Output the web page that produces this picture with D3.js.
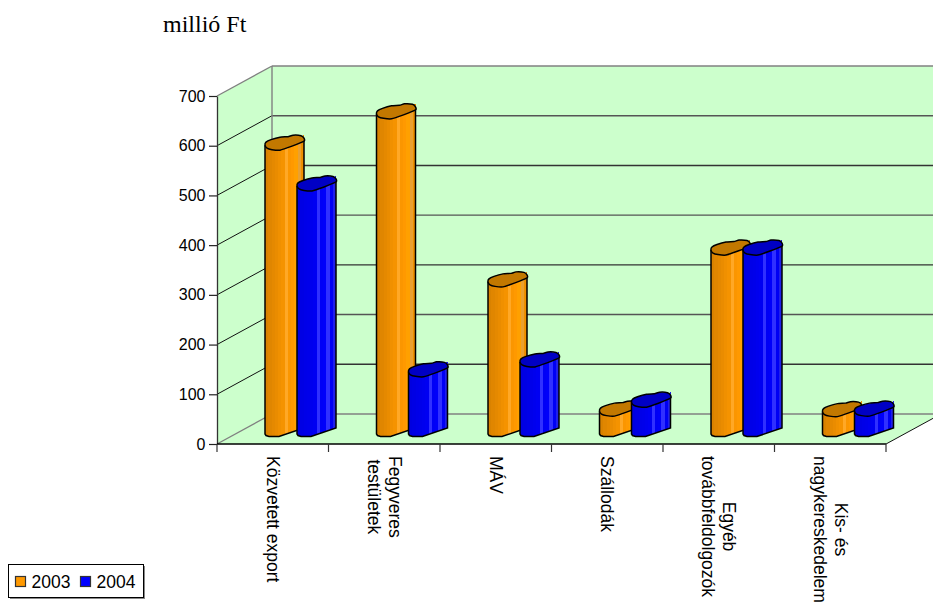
<!DOCTYPE html>
<html>
<head>
<meta charset="utf-8">
<script src="https://cdn.jsdelivr.net/npm/d3@7"></script>
<style>
    html, body { margin: 0; padding: 0; background: #fff; overflow: hidden; }
    svg { display: block; }
    text { font-family: "Liberation Sans", Arial, sans-serif; fill: #000; }
</style>
</head>
<body>
<div id="chart"></div>
<script>
const categories = [
    ["Közvetett export"],
    ["Fegyveres", "testületek"],
    ["MÁV"],
    ["Szállodák"],
    ["Egyéb", "továbbfeldolgozók"],
    ["Kis- és", "nagykereskedelem"]
];
const values2003 = [581, 644, 306, 46, 370, 45];
const values2004 = [499, 125, 145, 64, 370, 46];
const seriesNames = ["2003", "2004"];
const yTicks = [0, 100, 200, 300, 400, 500, 600, 700];

const width = 933, height = 604;
const depth = { x: 55, y: -30 };
const barLift = 10;

const orange = {
    cap: "#c27800", swatch: "#ff9900",
    facets: ["#d98200", "#e08600", "#e58900", "#ea8c00", "#f09000", "#f59300", "#ffa826", "#fb9600", "#ff9900", "#ffa000", "#eaa030", "#ee8f00"]
};
const blue = {
    cap: "#0000c4", swatch: "#0000ff",
    facets: ["#0000e0", "#0000e4", "#0000e8", "#0000ea", "#0000ee", "#0000f2", "#3030ff", "#0000f6", "#0000fa", "#3030ff", "#0000f4", "#2020ea"]
};

const svg = d3.select("#chart").append("svg")
    .attr("width", width)
    .attr("height", height);

const x = d3.scaleBand().domain(d3.range(categories.length)).range([217, 886]);
const y = d3.scaleLinear().domain([0, 700]).range([444, 96]);

const plotTop = y(700), plotBottom = y(0);

// back wall, side wall
svg.append("path")
    .attr("d", `M217,${plotBottom}V${plotTop}L${217 + depth.x},${plotTop + depth.y}H${886 + depth.x}V${plotBottom + depth.y}L886,${plotBottom}Z`)
    .attr("fill", "#ccffcc");

// gridlines, back wall first and then along the side wall
yTicks.forEach(t => {
    const grey = t === 0 || t === 700;
    const yy = y(t);
    svg.append("line")
        .attr("x1", 217 + depth.x).attr("x2", 886 + depth.x)
        .attr("y1", yy + depth.y).attr("y2", yy + depth.y)
        .attr("stroke", grey ? "#808080" : (t % 200 === 0 ? "#555" : "#333"))
        .attr("stroke-width", 1.4);
    svg.append("line")
        .attr("x1", 217).attr("x2", 217 + depth.x)
        .attr("y1", yy).attr("y2", yy + depth.y)
        .attr("stroke", grey ? "#808080" : "#111")
        .attr("stroke-width", grey ? 1.4 : 1);
});
svg.append("line")
    .attr("x1", 217 + depth.x).attr("x2", 217 + depth.x)
    .attr("y1", plotTop + depth.y).attr("y2", plotBottom + depth.y)
    .attr("stroke", "#808080").attr("stroke-width", 1.4);

// floor edge on the right
svg.append("line")
    .attr("x1", 886).attr("x2", 886 + depth.x)
    .attr("y1", plotBottom).attr("y2", plotBottom + depth.y)
    .attr("stroke", "#111");

// bars
const barWidth = 39;
const barOffsets = [48, 80];
const capShape = [[0, 0], [2, 3], [7, 4.5], [15, 5], [27, 1], [39, -4], [39, -7], [36, -9.5], [28, -10], [23, -8.5], [15, -8], [6, -5.5], [1, -3]];
const bottomEdge = [[0, 0], [1, 1.5], [4, 2.5], [14, 2.5], [39, -6]];

function edgeY(u) {
    // height of the lower edge of the rounded front at u across the bar
    const pts = bottomEdge;
    for (let i = 1; i < pts.length; i++) {
        if (u <= pts[i][0]) {
            const k = (u - pts[i - 1][0]) / (pts[i][0] - pts[i - 1][0]);
            return pts[i - 1][1] + k * (pts[i][1] - pts[i - 1][1]);
        }
    }
    return pts[pts.length - 1][1];
}

function drawBar(cat, offset, value, color) {
    const x0 = x(cat) + offset;
    const base = y(0) - barLift;
    const top = y(value) - barLift;
    const g = svg.append("g");
    const n = color.facets.length;

    // facets of the round front
    color.facets.forEach((c, i) => {
        const u0 = Math.round(i * barWidth / n), u1 = Math.round((i + 1) * barWidth / n);
        g.append("path")
            .attr("d", `M${x0 + u0},${top + edgeY(u0) * 1.7}L${x0 + u1},${top + edgeY(u1) * 1.7}L${x0 + u1},${base + edgeY(u1)}L${x0 + u0},${base + edgeY(u0)}Z`)
            .attr("fill", c)
            .attr("shape-rendering", "crispEdges");
    });

    // outline of the front
    const outline = bottomEdge.map(p => [x0 + p[0], base + p[1]]);
    g.append("path")
        .attr("d", d3.line()([[x0, top]].concat(outline, [[x0 + barWidth, top - 5]])))
        .attr("fill", "none")
        .attr("stroke", "#000")
        .attr("stroke-width", 1.5);

    // cap
    g.append("path")
        .attr("d", d3.line().curve(d3.curveCardinalClosed.tension(0.5))(capShape.map(p => [x0 + p[0], top + p[1]])))
        .attr("fill", color.cap)
        .attr("stroke", "#000")
        .attr("stroke-width", 1.5);
}

categories.forEach((c, i) => {
    drawBar(i, barOffsets[0], values2003[i], orange);
    drawBar(i, barOffsets[1], values2004[i], blue);
});

// axes
const axisY = svg.append("g").attr("transform", "translate(217,0)")
    .call(d3.axisLeft(y).tickValues(yTicks).tickSize(8).tickSizeOuter(0));
axisY.select(".domain").attr("stroke", "#333").attr("stroke-width", 1.3);
axisY.selectAll(".tick line").attr("stroke", "#222").attr("stroke-width", 1.2);
axisY.selectAll(".tick text")
    .attr("x", -11.5)
    .style("font-family", '"Liberation Sans", Arial, sans-serif')
    .style("font-size", "16px");

const tickPositions = d3.range(categories.length + 1).map(i => 217 + i * x.step());
svg.append("line")
    .attr("x1", 217).attr("x2", 886).attr("y1", plotBottom).attr("y2", plotBottom)
    .attr("stroke", "#000").attr("stroke-width", 1.3);
svg.selectAll(".xtick").data(tickPositions).join("line")
    .attr("class", "xtick")
    .attr("x1", d => d).attr("x2", d => d)
    .attr("y1", plotBottom).attr("y2", plotBottom + 8)
    .attr("stroke", "#333").attr("stroke-width", 1.2);

// category labels, rotated clockwise; first line is the rightmost
const labelTop = 456;
const lineHeight = 21;
categories.forEach((lines, i) => {
    const cx = x(i) + x.step() / 2;
    const label = svg.append("g");
    const texts = lines.map((s, j) => {
        const lx = cx + ((lines.length - 1) / 2 - j) * lineHeight;
        return label.append("text")
            .attr("transform", `translate(${lx},${labelTop}) rotate(90)`)
            .attr("dy", "0.35em")
            .style("font-size", "17.5px")
            .text(s);
    });
    const lengths = texts.map(t => t.node().getComputedTextLength());
    const longest = d3.max(lengths);
    texts.forEach((t, j) => {
        const lx = cx + ((lines.length - 1) / 2 - j) * lineHeight;
        t.attr("transform", `translate(${lx},${labelTop + (longest - lengths[j]) / 2}) rotate(90)`);
    });
});

// title
svg.append("text")
    .attr("x", 163).attr("y", 32)
    .style("font-family", '"Liberation Serif", "Times New Roman", serif')
    .style("font-size", "24px")
    .text("millió Ft");

// legend
const legend = svg.append("g");
legend.append("rect").attr("x", 10).attr("y", 566).attr("width", 135).attr("height", 33).attr("fill", "#888");
legend.append("rect").attr("x", 8.5).attr("y", 564.5).attr("width", 135).attr("height", 33)
    .attr("fill", "#fff").attr("stroke", "#000");
[orange, blue].forEach((c, i) => {
    const lx = 15.5 + i * 65;
    legend.append("rect").attr("x", lx).attr("y", 576.5).attr("width", 10).attr("height", 10)
        .attr("fill", c.swatch).attr("stroke", "#333").attr("stroke-width", 1.2);
    legend.append("text").attr("x", lx + 16).attr("y", 587.5)
        .style("font-size", "17.5px")
        .text(seriesNames[i]);
});
</script>
</body>
</html>
